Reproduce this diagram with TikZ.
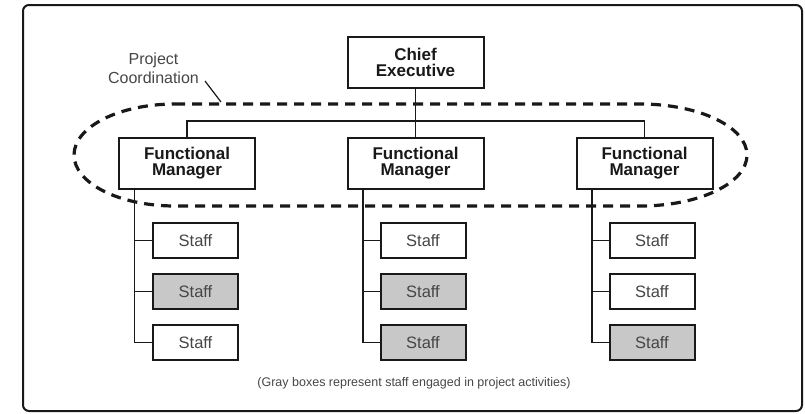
\documentclass[tikz,border=0pt]{standalone}
\usepackage{fontspec}
\setmainfont{Liberation Sans}
\usepackage{xcolor}
\usepackage{tikz}
\usetikzlibrary{calc}
\usetikzlibrary{positioning, backgrounds}
\definecolor{InkDark}{RGB}{25, 25, 25}
\definecolor{StaffGray}{RGB}{200, 200, 200}
\definecolor{TextGray}{RGB}{70, 70, 70}
\tikzset{
	mgrbox/.style={draw=InkDark, line width=2pt, fill=white, minimum width=136pt, minimum height=51pt, align=center, font=\fontsize{17}{16}\selectfont\bfseries, text=InkDark},
	staff/.style={draw=InkDark, line width=2pt, fill=white, minimum width=85pt, minimum height=35pt, font=\fontsize{16.5}{16}\selectfont, text=TextGray},
	graystaff/.style={staff, fill=StaffGray},
	link/.style={draw=InkDark, line width=1.6pt},
	coordline/.style={draw=InkDark, line width=3.2pt, dash pattern=on 10pt off 7pt},
}

\begin{document}
\begin{tikzpicture}[x=1pt, y=-1pt]
	\useasboundingbox (0,0) rectangle (805,413);
	\draw[InkDark, line width=2pt, rounded corners=6pt] (23,5) rectangle (802,411);

	% project coordination ring
	\draw[coordline] (175,104) -- (640,104)
		arc[start angle=-90, end angle=90, x radius=107, y radius=51]
		-- (175,206)
		arc[start angle=90, end angle=270, x radius=101, y radius=51] -- cycle;

	\node[mgrbox] (chief) at (415.5,62.5) {Chief\\Executive};
	\foreach \i/\x in {1/187, 2/415.5, 3/644.5}
		\node[mgrbox] (fm\i) at (\x,163.5) {Functional\\Manager};

	\draw[link] (chief.south) -- (fm2.north);
	\draw[link] (fm1.north) -- ++(0,-16) -| (fm3.north);

	% staff columns
	\foreach \i/\x/\sa/\sb/\sc in {1/195.5/staff/graystaff/staff, 2/423/staff/graystaff/graystaff, 3/652/staff/staff/graystaff}{
		\node[\sa] (s\i1) at (\x,240.5) {Staff};
		\node[\sb] (s\i2) at (\x,291.5) {Staff};
		\node[\sc] (s\i3) at (\x,342.5) {Staff};
		\coordinate (t\i) at ($(fm\i.south west)+(16.5,0)$);
		\draw[link] (t\i) |- (s\i3.west);
		\foreach \k in {1,2}
			\draw[link] (s\i\k.west) -- (s\i\k.west -| t\i);
	}

	\node[align=center, text=TextGray, font=\fontsize{16}{19}\selectfont] (pclabel) at (153.5,68) {Project\\Coordination};
	\coordinate (pctip) at (221,102);
	\draw[InkDark, line width=1.2pt] (205,81) -- (pctip);

	\node[text=TextGray, font=\fontsize{12.5}{14}\selectfont] (note) at (414,383) {(Gray boxes represent staff engaged in project activities)};
\end{tikzpicture}
\end{document}
